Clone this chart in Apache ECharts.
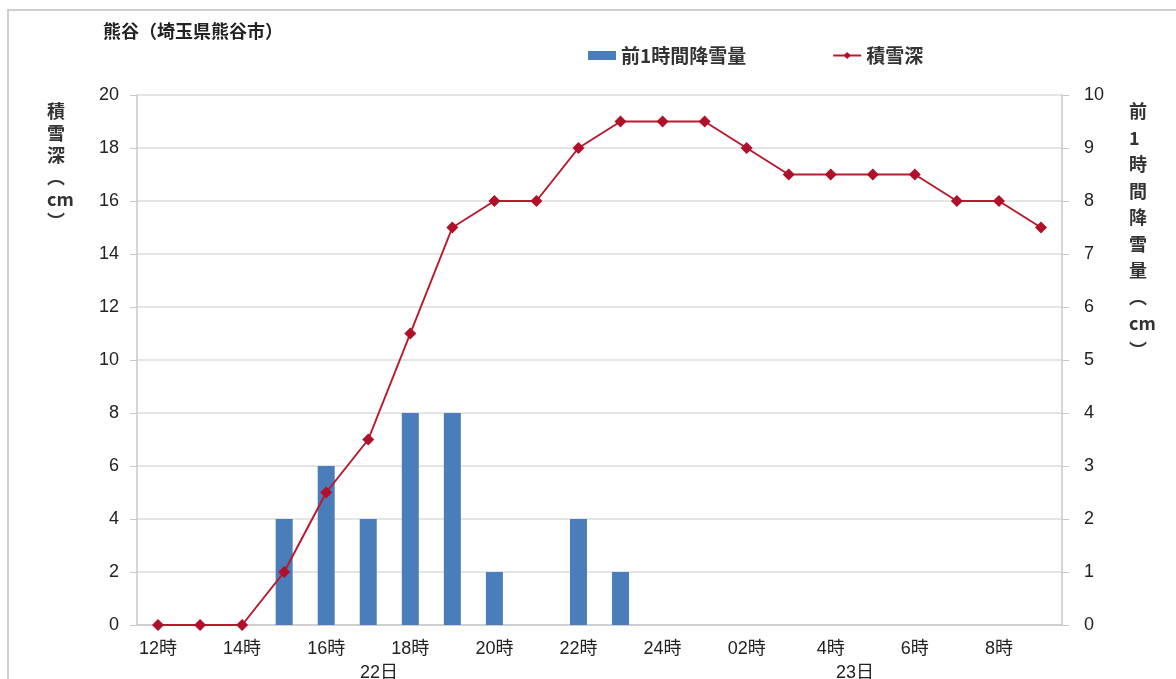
<!DOCTYPE html>
<html><head><meta charset="utf-8">
<script src="https://cdn.jsdelivr.net/npm/echarts@6/dist/echarts.min.js"></script>
<style>html,body{margin:0;padding:0;background:#fff}#c{width:1176px;height:679px}</style>
</head><body><div id="c"></div>
<script>
const categories = ['12時','13時','14時','15時','16時','17時','18時','19時','20時','21時','22時','23時','24時','01時','02時','03時','4時','05時','6時','07時','8時','09時'];
const shownLabels = ['12時','14時','16時','18時','20時','22時','24時','02時','4時','6時','8時'];
const snowDepth = [0,0,0,2,5,7,11,15,16,16,18,19,19,19,18,17,17,17,17,16,16,15];
const snowfall1h = [0,0,0,2,3,2,4,4,1,0,2,1,0,0,0,0,0,0,0,0,0,0];
const dayLabels = ['22日','23日'];

const chart = echarts.init(document.getElementById('c'));
const FONT = '"Noto Sans CJK JP", "Liberation Sans", sans-serif';
const vtext = (s) => s.split('|').join('\n');
chart.setOption({
  backgroundColor: '#fff',
  textStyle: { fontFamily: FONT },
  animation: false,
  grid: { left: 137, right: 114, top: 95, bottom: 54 },
  legend: {
    left: 583, top: 41, itemGap: 86, itemWidth: 28, itemHeight: 9,
    textStyle: { fontSize: 19, fontWeight: 'bold', color: '#333', fontFamily: FONT },
    data: [{ name: '前1時間降雪量', icon: 'rect' }, { name: '積雪深' }]
  },
  xAxis: {
    type: 'category', data: categories,
    axisLine: { lineStyle: { color: '#c8c8c8', width: 1.5 } },
    axisTick: { show: false },
    axisLabel: {
      interval: 0, margin: 15, fontSize: 18, color: '#222', fontFamily: '"Liberation Sans", "Noto Sans CJK JP", sans-serif',
      formatter: (v) => shownLabels.includes(v) ? v : ''
    }
  },
  yAxis: [
    {
      type: 'value', min: 0, max: 20, interval: 2, position: 'left',
      axisLine: { show: true, lineStyle: { color: '#c8c8c8', width: 1.5 } },
      axisTick: { show: true, length: 7, lineStyle: { color: '#c8c8c8' } },
      axisLabel: { fontSize: 18, color: '#222', margin: 18, fontFamily: '"Liberation Sans", sans-serif' },
      splitLine: { lineStyle: { color: '#dcdcdc', width: 1.5 } }
    },
    {
      type: 'value', min: 0, max: 10, interval: 1, position: 'right',
      axisLine: { show: true, lineStyle: { color: '#c8c8c8', width: 1.5 } },
      axisTick: { show: true, length: 7, lineStyle: { color: '#c8c8c8' } },
      axisLabel: { fontSize: 18, color: '#222', margin: 22, fontFamily: '"Liberation Sans", sans-serif' },
      splitLine: { show: false }
    }
  ],
  series: [
    {
      name: '前1時間降雪量', type: 'bar', yAxisIndex: 1, data: snowfall1h,
      barWidth: 17, itemStyle: { color: '#4a7ebb' }, z: 1
    },
    {
      name: '積雪深', type: 'line', yAxisIndex: 0, data: snowDepth,
      symbol: 'diamond', symbolSize: 12,
      lineStyle: { color: '#b81a2e', width: 2 },
      itemStyle: { color: '#b0102a' }, z: 3
    }
  ],
  graphic: [
    { type: 'rect', shape: { x: 8, y: 10, width: 1200, height: 700 }, style: { fill: 'none', stroke: '#cfcfcf', lineWidth: 2 }, silent: true },
    { type: 'text', left: 103, top: 22, style: { text: '熊谷（埼玉県熊谷市）', fontSize: 18, fontWeight: 'bold', fill: '#222', fontFamily: FONT } },
    { type: 'text', left: 47, top: 100, style: { text: vtext('積|雪|深|︵|cm|︶'), fontSize: 18, fontWeight: 'bold', lineHeight: 22, fill: '#333', align: 'center', fontFamily: FONT, x: 10 } },
    { type: 'text', left: 1129, top: 98, style: { text: vtext('前|1|時|間|降|雪|量|︵|cm|︶'), fontSize: 18, fontWeight: 'bold', lineHeight: 26.5, fill: '#333', align: 'center', fontFamily: FONT, x: 10 } },
    { type: 'text', left: 360, top: 664, style: { text: dayLabels[0], fontSize: 18, fontFamily: '"Liberation Sans", "Noto Sans CJK JP"', fill: '#222' } },
    { type: 'text', left: 836, top: 664, style: { text: dayLabels[1], fontSize: 18, fontFamily: '"Liberation Sans", "Noto Sans CJK JP"', fill: '#222' } }
  ]
});
</script></body></html>
